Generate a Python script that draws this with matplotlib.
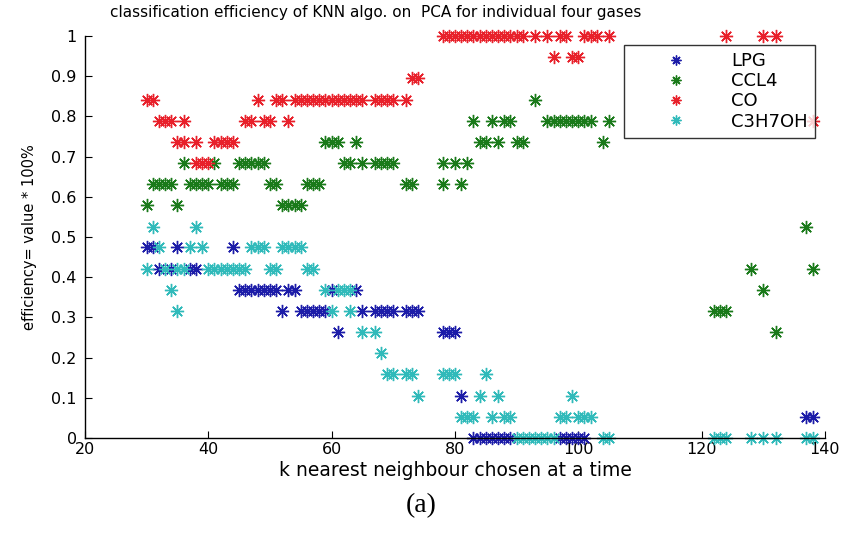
import matplotlib
matplotlib.use("Agg")
import matplotlib.pyplot as plt
import numpy as np

# efficiency levels (fraction of 19 test samples) and the k values seen at each level
lpg_levels = [0.474, 0.421, 0.368, 0.316, 0.263, 0.105, 0.053, 0.0]
lpg_k = [
    [30, 31, 35, 44],
    [32, 34, 37, 38],
    [45, 46, 47, 48, 49, 50, 51, 53, 54, 60, 64],
    [52, 55, 56, 57, 58, 59, 65, 67, 68, 69, 70, 72, 73, 74],
    [61, 78, 79, 80],
    [81],
    [137, 138],
    [83, 84, 85, 86, 87, 88, 89, 97, 98, 99, 100, 101],
]

ccl4_levels = [0.842, 0.789, 0.737, 0.684, 0.632, 0.579, 0.526, 0.421, 0.368, 0.316, 0.263]
ccl4_k = [
    [93],
    [83, 86, 88, 89, 95, 96, 97, 98, 99, 100, 101, 102, 105],
    [59, 60, 61, 64, 84, 85, 87, 90, 91, 104],
    [36, 41, 45, 46, 47, 48, 49, 62, 63, 65, 67, 68, 69, 70, 78, 80, 82],
    [31, 32, 33, 34, 37, 38, 39, 40, 42, 43, 44, 50, 51, 56, 57, 58, 72, 73, 78, 81],
    [30, 35, 52, 53, 54, 55],
    [137],
    [128, 138],
    [130],
    [122, 123, 124],
    [132],
]

co_levels = [1.0, 0.947, 0.895, 0.842, 0.789, 0.737, 0.684]
co_k = [
    [78, 79, 80, 81, 82, 83, 84, 85, 86, 87, 88, 89, 90, 91, 93, 95, 97, 98,
     101, 102, 103, 105, 124, 130, 132],
    [96, 99, 100],
    [73, 74],
    [30, 31, 48, 51, 52, 54, 55, 56, 57, 58, 59, 60, 61, 62, 63, 64, 65,
     67, 68, 69, 70, 72],
    [32, 33, 34, 36, 46, 47, 49, 50, 53, 138],
    [35, 36, 38, 41, 42, 43, 44],
    [38, 39, 40],
]

c3h7oh_levels = [0.526, 0.474, 0.421, 0.368, 0.316, 0.263, 0.211, 0.158, 0.105, 0.053, 0.0]
c3h7oh_k = [
    [31, 38],
    [32, 37, 39, 47, 48, 49, 52, 53, 54, 55],
    [30, 33, 35, 36, 40, 41, 42, 43, 44, 45, 46, 50, 51, 56, 57],
    [34, 59, 61, 62, 63],
    [35, 60, 63],
    [65, 67],
    [68],
    [69, 70, 72, 73, 78, 79, 80, 85],
    [74, 84, 87, 99],
    [81, 82, 83, 86, 88, 89, 97, 98, 100, 101, 102],
    [90, 91, 92, 93, 94, 95, 96, 104, 105, 122, 123, 124, 128, 130, 132, 137, 138],
]

labels = ["LPG", "CCL4", "CO", "C3H7OH"]
colors = ["#1c1ca8", "#1a7a1a", "#e8202a", "#30baba"]


def flatten(levels, ks):
    x, y = [], []
    for lev, kk in zip(levels, ks):
        x.extend(kk)
        y.extend([lev] * len(kk))
    return np.array(x), np.array(y)


plt.rcParams['font.family'] = ['DejaVu Sans']

fig = plt.figure(figsize=(8.43, 5.42), dpi=100)
ax = fig.add_axes([0.1008, 0.1919, 0.8778, 0.7417])

series = [(lpg_levels, lpg_k), (ccl4_levels, ccl4_k),
          (co_levels, co_k), (c3h7oh_levels, c3h7oh_k)]
for (lev, kk), lab, col in zip(series, labels, colors):
    x, y = flatten(lev, kk)
    ax.plot(x, y, linestyle='none', marker=(8, 2, 0), markersize=9.5,
            markeredgewidth=1.0, color=col, label=lab, clip_on=False)

ax.set_xlim(20, 140)
ax.set_ylim(0, 1)
ax.set_xticks(np.arange(20, 141, 20))
ax.set_yticks(np.arange(0, 1.01, 0.1))
ax.set_yticklabels(['0', '0.1', '0.2', '0.3', '0.4', '0.5', '0.6', '0.7', '0.8', '0.9', '1'])
ax.tick_params(direction='in', length=5, labelsize=11.5, width=0.8)
ax.tick_params(axis='x', pad=3)
ax.tick_params(axis='y', pad=6)
ax.spines['top'].set_visible(False)
ax.spines['right'].set_visible(False)
ax.spines['left'].set_linewidth(1.0)
ax.spines['bottom'].set_linewidth(1.0)

# title sits left of the axes centre in the original
fig.text(376 / 843, 1 - 13 / 542,
         "classification efficiency of KNN algo. on  PCA for individual four gases",
         ha='center', va='center', fontsize=11)
ax.set_xlabel("k nearest neighbour chosen at a time", fontsize=13.5, labelpad=3)
ax.set_ylabel("efficiency= value * 100%", fontsize=10.5, labelpad=10)

leg = ax.legend(loc='upper right', bbox_to_anchor=(0.986, 0.978), borderaxespad=0,
                fontsize=13, frameon=True, fancybox=False, edgecolor='black',
                handlelength=4.9, handletextpad=0.6, borderpad=0.4,
                labelspacing=0.12, markerscale=0.75)
leg.get_frame().set_linewidth(1.0)

fig.text(0.5, 1 - 506 / 542, "(a)", ha='center', va='center', fontsize=20,
         family='Liberation Serif')

fig.savefig("out.png", dpi=100)
